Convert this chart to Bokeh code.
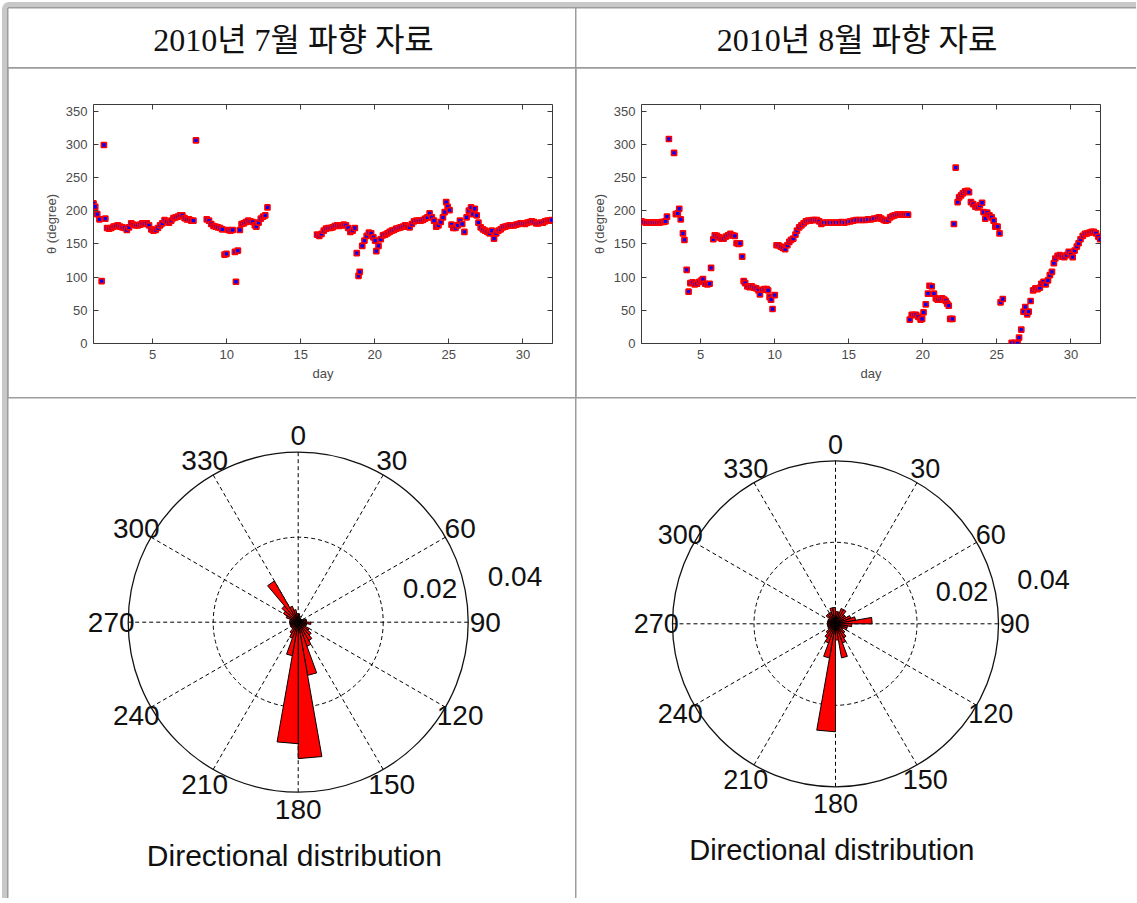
import numpy as np
from bokeh.plotting import figure
from bokeh.layouts import column, row
from bokeh.models import LinearAxis, FixedTicker, Range1d
from bokeh.core.properties import value
from bokeh.embed import file_html
from bokeh.resources import INLINE

# ---------------- data ----------------
headers = ["2010년 7월 파향 자료", "2010년 8월 파향 자료"]
x_ticks = [5, 10, 15, 20, 25, 30]
y_ticks = [0, 50, 100, 150, 200, 250, 300, 350]
x_label = "day"
y_label = "θ (degree)"
rose_title = "Directional distribution"
angle_ticks = [0, 30, 60, 90, 120, 150, 180, 210, 240, 270, 300, 330]
radial_ticks = ["0.02", "0.04"]

jul_day = [1.00, 1.12, 1.25, 1.40, 1.55, 1.70, 1.80, 1.92, 2.05, 2.20, 2.35, 2.50, 2.65, 2.80, 2.95,
           3.10, 3.25, 3.40, 3.55, 3.70, 3.85, 4.00, 4.15, 4.30, 4.45, 4.60, 4.75, 4.90, 5.05, 5.20,
           5.35, 5.50, 5.65, 5.80, 5.95, 6.10, 6.25, 6.40, 6.55, 6.70, 6.85, 7.00, 7.15, 7.30, 7.45,
           7.60, 7.75, 7.92, 8.65, 8.80, 8.95, 9.10, 9.25, 9.40, 9.55, 9.70, 9.85, 9.98, 10.10, 10.25,
           10.40, 10.55, 10.62, 10.75, 10.88, 11.00, 11.15, 11.30, 11.45, 11.60, 11.75, 11.90, 12.00,
           12.15, 12.30, 12.45, 12.60, 12.75,
           16.10, 16.25, 16.40, 16.55, 16.70, 16.85, 17.00, 17.15, 17.30, 17.45, 17.60, 17.75, 17.90,
           18.05, 18.20, 18.35, 18.50, 18.65, 18.78, 18.90, 18.98, 19.15, 19.30, 19.45, 19.60, 19.75,
           19.90, 20.02, 20.10, 20.25, 20.40, 20.55, 20.70, 20.85, 21.00, 21.15, 21.30, 21.45, 21.60,
           21.75, 21.90, 22.05, 22.20, 22.35, 22.50, 22.65, 22.80, 22.95, 23.10, 23.25, 23.40, 23.55,
           23.70, 23.85, 24.00, 24.15, 24.30, 24.45, 24.60, 24.72, 24.82, 24.92, 25.05, 25.18, 25.30,
           25.45, 25.60, 25.75, 25.90, 26.05, 26.20, 26.35, 26.50, 26.62, 26.75, 26.88, 27.00, 27.15,
           27.30, 27.45, 27.60, 27.75, 27.90, 28.05, 28.20, 28.35, 28.50, 28.65, 28.80, 28.95, 29.10,
           29.25, 29.40, 29.55, 29.70, 29.85, 30.00, 30.15, 30.30, 30.45, 30.60, 30.75, 30.90, 31.05,
           31.20, 31.35, 31.50, 31.65, 31.80, 31.95]
jul_deg = [211, 206, 195, 187, 94, 299, 188, 174, 173, 174, 176, 177, 178, 176, 175,
           174, 171, 175, 181, 179, 178, 178, 179, 181, 180, 181, 178, 172, 170, 171,
           174, 178, 181, 186, 184, 182, 185, 189, 190, 191, 193, 193, 189, 187, 187,
           185, 185, 306, 187, 185, 180, 177, 176, 175, 174, 172, 134, 135, 171, 170,
           171, 138, 93, 140, 171, 180, 181, 183, 185, 184, 183, 178, 176,
           182, 188, 191, 193, 205,
           164, 162, 165, 170, 173, 174, 174, 175, 177, 178, 177, 178, 179,
           178, 174, 168, 170, 174, 136, 102, 108, 147, 155, 162, 167, 166,
           160, 155, 139, 147, 157, 163, 164, 166, 168, 170, 171, 173, 174,
           175, 176, 178, 176, 175, 180, 184, 185, 185, 185, 186, 188, 190,
           196, 190, 185, 176, 178, 183, 190, 198, 213, 206, 201, 179, 174,
           174, 178, 185, 180, 168, 190, 200, 205, 195, 203, 193, 182, 175,
           172, 170, 168, 166, 170, 158, 166, 170, 172, 175, 176, 177, 178,
           178, 178, 179, 180, 181, 181, 180, 182, 183, 184, 183, 181, 181,
           182, 182, 184, 185, 185, 186]

aug_day = [1.00, 1.15, 1.30, 1.45, 1.60, 1.75, 1.90, 2.05, 2.20, 2.35, 2.50, 2.62, 2.72, 2.85, 3.20,
           3.32, 3.45, 3.55, 3.65, 3.80, 3.90, 4.05, 4.18, 4.30, 4.45, 4.60, 4.75, 4.90, 5.05, 5.15,
           5.30, 5.45, 5.60, 5.70, 5.85, 5.95, 6.10, 6.25, 6.40, 6.55, 6.70, 6.85, 7.00, 7.15, 7.30,
           7.42, 7.55, 7.65, 7.80, 7.90, 8.00, 8.15, 8.30, 8.45, 8.60, 8.75, 8.90, 9.00, 9.15, 9.30,
           9.45, 9.55, 9.65, 9.75, 9.85, 10.00, 10.12, 10.25, 10.40, 10.55, 10.70, 10.85, 10.98, 11.10,
           11.25, 11.40, 11.50, 11.65, 11.80, 11.95, 12.10, 12.25, 12.40, 12.55, 12.70, 12.85, 13.00,
           13.15, 13.30, 13.50, 13.70, 13.90, 14.10, 14.30, 14.50, 14.70, 14.90, 15.10, 15.30, 15.50,
           15.70, 15.90, 16.10, 16.30, 16.50, 16.70, 16.90, 17.05, 17.20, 17.35, 17.50, 17.65, 17.80,
           17.95, 18.10, 18.25, 18.40, 18.55, 18.70, 18.85, 19.00, 19.12, 19.25, 19.40, 19.55, 19.70,
           19.85, 19.95, 20.05, 20.20, 20.35, 20.45, 20.60, 20.75, 20.88, 21.00, 21.15, 21.30, 21.45,
           21.55, 21.65, 21.75, 21.85, 22.00, 22.10, 22.22, 22.35, 22.45, 22.58, 22.70, 22.85, 23.00,
           23.12, 23.25, 23.40, 23.55, 23.70, 23.85, 24.00, 24.10, 24.22, 24.35, 24.50, 24.65, 24.78,
           24.90, 25.05, 25.18, 25.25, 25.40, 26.00, 26.20, 26.40, 26.50, 26.65, 26.80, 26.92, 27.05,
           27.15, 27.28, 27.45, 27.60, 27.75, 27.90, 28.00, 28.15, 28.30, 28.45, 28.58, 28.72, 28.85,
           28.95, 29.10, 29.25, 29.40, 29.55, 29.70, 29.85, 30.00, 30.12, 30.25, 30.40, 30.52, 30.65,
           30.80, 30.95, 31.10, 31.25, 31.40, 31.55, 31.70, 31.85, 31.98]
aug_deg = [184, 183, 182, 182, 182, 182, 182, 182, 182, 183, 183, 184, 191, 308, 287,
           195, 196, 203, 187, 166, 156, 111, 78, 91, 92, 89, 90, 93, 95, 97,
           90, 89, 90, 114, 157, 163, 162, 160, 158, 158, 161, 163, 165, 163, 162,
           151, 150, 151, 131, 94, 91, 86, 85, 86, 84, 83, 80, 74, 81, 82,
           82, 80, 70, 66, 52, 73, 148, 148, 146, 144, 142, 148, 153, 156,
           158, 164, 170, 175, 178, 181, 184, 185, 185, 186, 186, 186, 184,
           180, 182, 182, 182, 182, 182, 182, 183, 182, 183, 184, 185, 186,
           186, 186, 186, 187, 187, 188, 189, 190, 188, 186, 185, 186, 190,
           192, 193, 194, 194, 194, 194, 194, 194, 36, 43, 43, 43, 40,
           36, 37, 47, 59, 75, 87, 86, 75, 68, 66, 66, 68, 66,
           64, 60, 57, 37, 37, 180, 265, 213, 220, 223, 226, 229, 230,
           228, 213, 210, 206, 205, 208, 212, 198, 188, 197, 193, 190, 185,
           176, 176, 166, 62, 67, 1, 1, 0, 9, 21, 48, 55, 44,
           48, 64, 80, 83, 82, 84, 90, 93, 89, 95, 103, 108, 121,
           128, 132, 133, 131, 130, 133, 138, 134, 130, 140, 146, 151, 157,
           162, 165, 166, 167, 168, 168, 166, 161, 157]

rose_bin_start = [0, 10, 20, 30, 40, 50, 60, 70, 80, 90, 100, 110, 120, 130, 140, 150, 160, 170,
                  180, 190, 200, 210, 220, 230, 240, 250, 260, 270, 280, 290, 300, 310, 320, 330, 340, 350]
jul_rose = [0.002, 0.0015, 0.001, 0.001, 0.001, 0.001, 0.0015, 0.002, 0.002, 0.003, 0.002, 0.002,
            0.003, 0.004, 0.005, 0.006, 0.0127, 0.0321, 0.0286, 0.008, 0.004, 0.003, 0.002, 0.002,
            0.002, 0.002, 0.002, 0.002, 0.002, 0.003, 0.004, 0.005, 0.0112, 0.004, 0.003, 0.002]
aug_rose = [0.003, 0.003, 0.004, 0.004, 0.003, 0.003, 0.004, 0.005, 0.009, 0.004, 0.003, 0.003,
            0.002, 0.003, 0.004, 0.005, 0.0085, 0.004, 0.0265, 0.0085, 0.005, 0.004, 0.003, 0.002,
            0.002, 0.002, 0.002, 0.002, 0.002, 0.002, 0.002, 0.003, 0.003, 0.003, 0.004, 0.004]

# ---------------- layout constants ----------------
COL_W = [567, 560]
ROW_H = [59, 329, 500]
SANS = "Liberation Sans"
AX_COL = "#3a3a3a"
LBL_COL = "#4a4a4a"


def header_fig(txt, w, h, xc, yc):
    p = figure(width=w, height=h, x_range=(0, 1), y_range=(0, 1), min_border=0,
               x_axis_location=None, y_axis_location=None,
               output_backend="svg", toolbar_location=None)
    p.grid.visible = False
    p.outline_line_color = None
    p.text(x=[xc], y=[yc], text=[txt], text_align="center", text_baseline="middle",
           text_font=value("Liberation Serif, Noto Sans CJK KR"), text_font_size="32px",
           text_color="#111111")
    return p


def style_axis(ax, show_labels=True):
    ax.axis_line_color = None
    ax.major_tick_in = 5
    ax.major_tick_out = 0
    ax.major_tick_line_color = AX_COL
    ax.minor_tick_line_color = None
    ax.major_label_text_font = SANS
    ax.major_label_text_font_size = "13px"
    if show_labels:
        ax.major_label_text_color = LBL_COL
        ax.major_label_standoff = 6
    else:
        ax.major_label_text_color = None
        ax.major_label_standoff = 0
    ax.axis_label_text_font = SANS
    ax.axis_label_text_font_style = "normal"
    ax.axis_label_text_color = LBL_COL


def scatter_fig(days, degs, w, h, bl, br, bt, bb):
    p = figure(width=w, height=h, x_range=Range1d(1, 32), y_range=Range1d(0, 360),
               min_border_left=bl, min_border_right=br, min_border_top=bt, min_border_bottom=bb,
               output_backend="svg", toolbar_location=None)
    p.grid.visible = False
    p.outline_line_color = AX_COL
    p.outline_line_width = 1
    p.xaxis.ticker = FixedTicker(ticks=x_ticks)
    p.yaxis.ticker = FixedTicker(ticks=y_ticks)
    p.xaxis.axis_label = x_label
    p.yaxis.axis_label = y_label
    for ax in p.xaxis + p.yaxis:
        style_axis(ax)
    p.xaxis.axis_label_text_font_size = "13px"
    p.yaxis.axis_label_text_font_size = "13px"
    p.xaxis.axis_label_standoff = 4
    p.yaxis.axis_label_standoff = 4
    top = LinearAxis(ticker=FixedTicker(ticks=x_ticks))
    style_axis(top, False)
    p.add_layout(top, "above")
    right = LinearAxis(ticker=FixedTicker(ticks=y_ticks))
    style_axis(right, False)
    p.add_layout(right, "right")
    p.scatter(x=days, y=degs, marker="square", size=5, fill_color="#0000ff",
              line_color="#ff0000", line_width=1.7)
    return p


def polar_fig(vals, w, h, cx, cy, scale, lab_fs, title_fs, title_xy, rlab_xy):
    R = 0.04
    p = figure(width=w, height=h,
               x_range=Range1d(-cx / scale, (w - cx) / scale),
               y_range=Range1d(-(h - cy) / scale, cy / scale),
               x_axis_location=None, y_axis_location=None, min_border=0,
               output_backend="svg", toolbar_location=None)
    p.grid.visible = False
    p.outline_line_color = None
    spoke = np.deg2rad(np.array(angle_ticks[:6], dtype=float))
    p.multi_line(xs=[[-R * np.sin(a), R * np.sin(a)] for a in spoke],
                 ys=[[-R * np.cos(a), R * np.cos(a)] for a in spoke],
                 line_color="black", line_dash="4 3", line_width=1)
    p.circle(x=[0], y=[0], radius=R / 2, fill_color=None, line_color="black",
             line_dash="4 3", line_width=1)
    p.circle(x=[0], y=[0], radius=R, fill_color=None, line_color="#111111", line_width=1.3)
    a0 = np.deg2rad(np.array(rose_bin_start, dtype=float))
    a1 = a0 + np.deg2rad(10.0)
    r = np.array(vals)
    xs = [[0.0, ri * np.sin(s), ri * np.sin(e), 0.0] for ri, s, e in zip(r, a0, a1)]
    ys = [[0.0, ri * np.cos(s), ri * np.cos(e), 0.0] for ri, s, e in zip(r, a0, a1)]
    p.patches(xs=xs, ys=ys, fill_color="#ff0000", line_color="black", line_width=1)
    at = np.deg2rad(np.array(angle_ticks, dtype=float))
    p.text(x=1.1 * R * np.sin(at), y=1.1 * R * np.cos(at), text=[str(a) for a in angle_ticks],
           text_align="center", text_baseline="middle", text_font=value(SANS),
           text_font_size=lab_fs, text_color="#111111")
    p.text(x=[xy[0] for xy in rlab_xy], y=[xy[1] for xy in rlab_xy], text=radial_ticks,
           text_align="left", text_baseline="middle", text_font=value(SANS),
           text_font_size=lab_fs, text_color="#111111")
    p.text(x=[title_xy[0]], y=[title_xy[1]], text=[rose_title], text_align="center",
           text_baseline="middle", text_font=value(SANS), text_font_size=title_fs,
           text_color="#111111")
    return p


h1 = header_fig(headers[0], COL_W[0], ROW_H[0], 0.5026, 0.46)
h2 = header_fig(headers[1], COL_W[1], ROW_H[0], 0.501, 0.46)
s1 = scatter_fig(jul_day, jul_deg, COL_W[0], ROW_H[1], 85, 23, 26, 54)
s2 = scatter_fig(aug_day, aug_deg, COL_W[1], ROW_H[1], 65, 36, 36, 44)
r1 = polar_fig(jul_rose, COL_W[0], ROW_H[2], 289.7, 223.7, 4250.0, "28px", "30px",
               (-0.0009, -0.0549), [(0.0246, 0.008), (0.0446, 0.0108)])
r2 = polar_fig(aug_rose, COL_W[1], ROW_H[2], 259.0, 225.3, 4075.0, "27px", "29px",
               (-0.0009, -0.0556), [(0.0246, 0.008), (0.0446, 0.0108)])

layout = column(row(h1, h2, spacing=1), row(s1, s2, spacing=1), row(r1, r2, spacing=1),
                spacing=1)
layout.styles = {"margin": "2px 0px 0px 2px",
                 "border-top": "5px solid #c8c8c8", "border-left": "5px solid #c8c8c8",
                 "border-top-left-radius": "7px",
                 "padding": "1px 0px 0px 1px", "background-color": "#9c9c9c"}

open("out.html", "w").write(file_html(layout, INLINE))
